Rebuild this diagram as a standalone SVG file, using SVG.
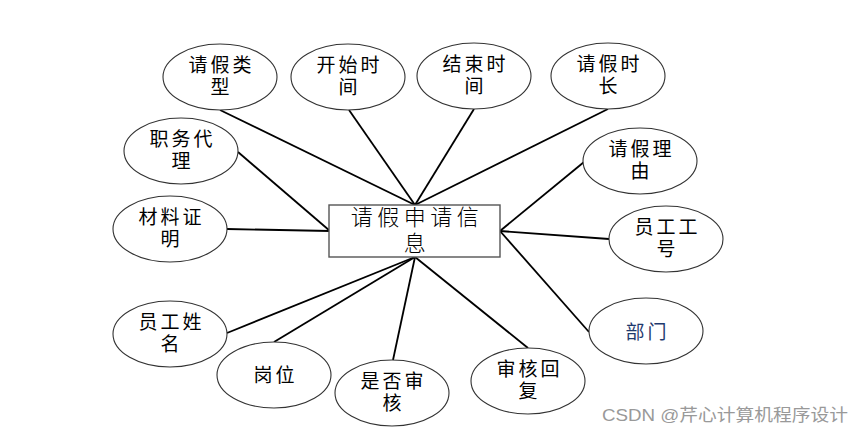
<svg xmlns="http://www.w3.org/2000/svg" width="868" height="440" viewBox="0 0 868 440">
<style>
.e{fill:#fff;stroke:#333;stroke-width:1.1}
.t{font-family:"Noto Sans CJK SC","Liberation Sans",sans-serif;font-size:19px;letter-spacing:3px;fill:#000;text-anchor:middle}
.c line{stroke:#000;stroke-width:1.8}
.r{fill:#fff;stroke:#555;stroke-width:1.4}
.rt{font-family:"Noto Sans CJK SC","Liberation Sans",sans-serif;font-size:22px;letter-spacing:4.5px;font-weight:300;fill:#000;text-anchor:middle}
.w{font-family:"Liberation Sans","Noto Sans CJK SC",sans-serif;font-size:17px;fill:#999}
</style>
<rect width="868" height="440" fill="#fff"/>
<g class="c" id="connectors">
<line x1="220" y1="110" x2="415" y2="205"/>
<line x1="349" y1="110" x2="415" y2="205"/>
<line x1="474" y1="109" x2="415" y2="205"/>
<line x1="608" y1="109" x2="415" y2="205"/>
<line x1="238" y1="152" x2="330" y2="231"/>
<line x1="227" y1="229" x2="330" y2="231"/>
<line x1="584" y1="162" x2="500" y2="231"/>
<line x1="609" y1="239" x2="500" y2="231"/>
<line x1="589" y1="332" x2="500" y2="231"/>
<line x1="227" y1="333" x2="415" y2="257"/>
<line x1="274" y1="342" x2="415" y2="257"/>
<line x1="393" y1="360" x2="415" y2="257"/>
<line x1="528" y1="348" x2="415" y2="257"/>
</g>
<g id="center">
<rect class="r" x="329" y="205" width="171" height="52"/>
<text class="rt" x="417" y="225">请假申请信</text>
<text class="rt" x="417" y="251">息</text>
</g>
<g id="n1"><ellipse class="e" cx="220" cy="77" rx="57" ry="33"/><text class="t" x="221.5" y="72">请假类</text><text class="t" x="221.5" y="94">型</text></g>
<g id="n2"><ellipse class="e" cx="348" cy="77" rx="57" ry="33"/><text class="t" x="349.5" y="72">开始时</text><text class="t" x="349.5" y="94">间</text></g>
<g id="n3"><ellipse class="e" cx="474" cy="76" rx="57" ry="33"/><text class="t" x="475.5" y="71">结束时</text><text class="t" x="475.5" y="93">间</text></g>
<g id="n4"><ellipse class="e" cx="608" cy="76" rx="57" ry="33"/><text class="t" x="609.5" y="71">请假时</text><text class="t" x="609.5" y="93">长</text></g>
<g id="n5"><ellipse class="e" cx="181" cy="151" rx="57" ry="33"/><text class="t" x="182.5" y="146">职务代</text><text class="t" x="182.5" y="168">理</text></g>
<g id="n6"><ellipse class="e" cx="170" cy="229" rx="57" ry="33"/><text class="t" x="171.5" y="224">材料证</text><text class="t" x="171.5" y="246">明</text></g>
<g id="n7"><ellipse class="e" cx="640" cy="161" rx="57" ry="33"/><text class="t" x="641.5" y="156">请假理</text><text class="t" x="641.5" y="178">由</text></g>
<g id="n8"><ellipse class="e" cx="666" cy="239" rx="57" ry="33"/><text class="t" x="667.5" y="234">员工工</text><text class="t" x="667.5" y="256">号</text></g>
<g id="n9"><ellipse class="e" cx="646" cy="331" rx="57" ry="33"/><text class="t" x="647.5" y="339" style="fill:#1f3a6e">部门</text></g>
<g id="n10"><ellipse class="e" cx="170" cy="334" rx="57" ry="33"/><text class="t" x="171.5" y="329">员工姓</text><text class="t" x="171.5" y="351">名</text></g>
<g id="n11"><ellipse class="e" cx="274" cy="375" rx="57" ry="33"/><text class="t" x="275.5" y="382">岗位</text></g>
<g id="n12"><ellipse class="e" cx="392" cy="393" rx="57" ry="33"/><text class="t" x="393.5" y="388">是否审</text><text class="t" x="393.5" y="410">核</text></g>
<g id="n13"><ellipse class="e" cx="528" cy="381" rx="57" ry="33"/><text class="t" x="529.5" y="376">审核回</text><text class="t" x="529.5" y="398">复</text></g>
<text class="w" x="602" y="421" textLength="246" lengthAdjust="spacingAndGlyphs">CSDN @芹心计算机程序设计</text>
</svg>
